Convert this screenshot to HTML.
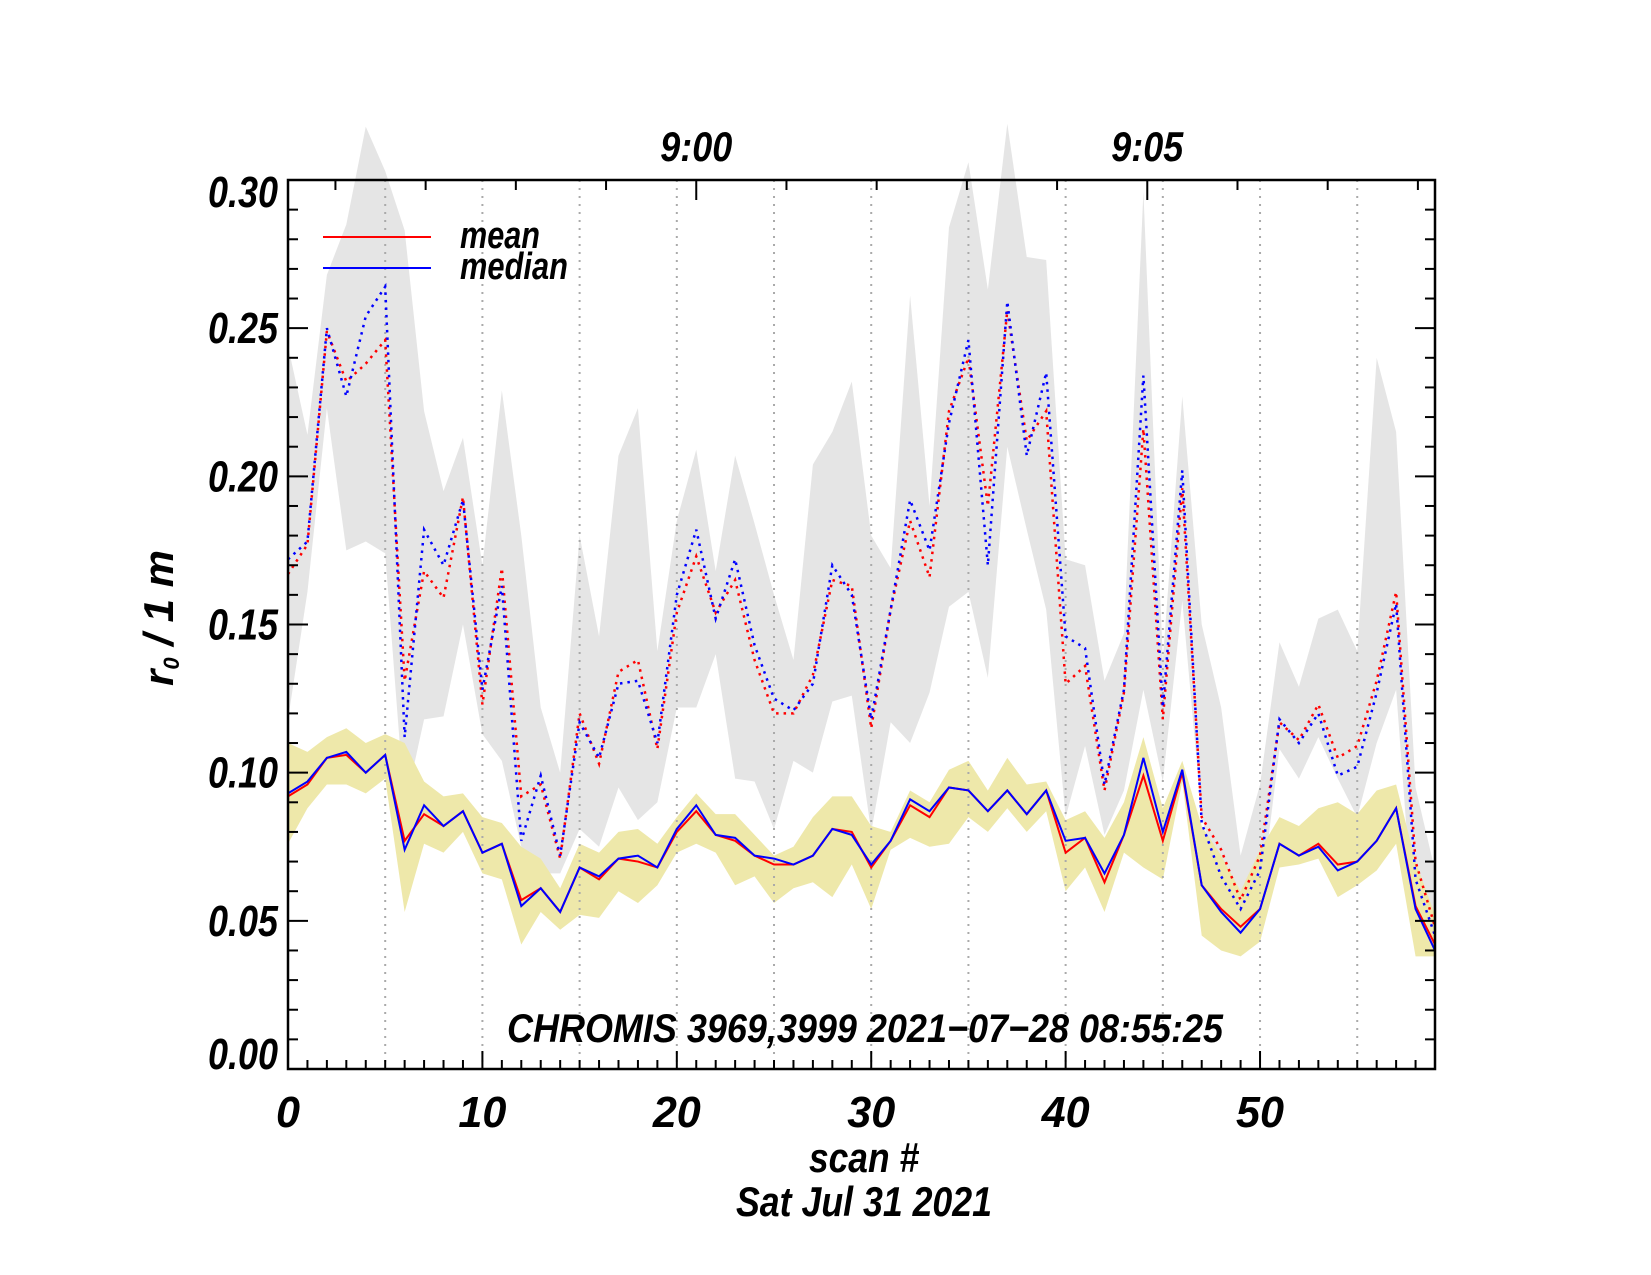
<!DOCTYPE html>
<html><head><meta charset="utf-8"><style>
html,body{margin:0;padding:0;background:#fff;}
svg{display:block;}
text{font-family:"Liberation Sans",sans-serif;font-weight:bold;font-style:italic;fill:#000;}
</style></head><body>
<svg id="chart" width="1651" height="1275" viewBox="0 0 1651 1275" xmlns="http://www.w3.org/2000/svg">
<g id="bands"></g><g id="grid"></g><g id="series"></g><g id="axes"></g><g id="labels"></g>
</svg>
<script>
const scans = Array.from({length:60},(_,i)=>i);
const meanSolid=[0.092,0.096,0.105,0.106,0.100,0.106,0.077,0.086,0.082,0.087,0.073,0.076,0.057,0.061,0.053,0.068,0.064,0.071,0.070,0.068,0.080,0.087,0.079,0.077,0.072,0.069,0.069,0.072,0.081,0.080,0.068,0.077,0.089,0.085,0.095,0.094,0.087,0.094,0.086,0.094,0.073,0.078,0.063,0.079,0.099,0.077,0.100,0.062,0.054,0.048,0.054,0.076,0.072,0.076,0.069,0.070,0.077,0.088,0.055,0.042];
const medianSolid=[0.093,0.097,0.105,0.107,0.100,0.106,0.074,0.089,0.082,0.087,0.073,0.076,0.055,0.061,0.053,0.068,0.065,0.071,0.072,0.068,0.081,0.089,0.079,0.078,0.072,0.071,0.069,0.072,0.081,0.079,0.069,0.077,0.091,0.087,0.095,0.094,0.087,0.094,0.086,0.094,0.077,0.078,0.066,0.079,0.105,0.080,0.101,0.062,0.053,0.046,0.054,0.076,0.072,0.075,0.067,0.070,0.077,0.088,0.054,0.040];
const yellowUpper=[0.110,0.107,0.112,0.115,0.110,0.113,0.110,0.097,0.092,0.093,0.085,0.083,0.075,0.071,0.061,0.076,0.073,0.080,0.081,0.076,0.085,0.093,0.086,0.086,0.079,0.072,0.075,0.085,0.092,0.092,0.082,0.080,0.094,0.090,0.101,0.104,0.094,0.105,0.096,0.097,0.084,0.087,0.078,0.090,0.112,0.088,0.104,0.082,0.072,0.060,0.074,0.085,0.082,0.088,0.090,0.086,0.094,0.096,0.070,0.052];
const yellowLower=[0.076,0.088,0.096,0.096,0.093,0.098,0.053,0.076,0.073,0.080,0.066,0.064,0.042,0.053,0.047,0.052,0.051,0.060,0.056,0.062,0.073,0.076,0.073,0.062,0.065,0.056,0.061,0.063,0.058,0.069,0.054,0.074,0.078,0.075,0.076,0.085,0.080,0.088,0.080,0.087,0.060,0.068,0.053,0.073,0.068,0.064,0.097,0.045,0.040,0.038,0.043,0.068,0.069,0.071,0.058,0.062,0.067,0.076,0.038,0.038];
const meanDotted=[0.167,0.177,0.249,0.232,0.238,0.246,0.131,0.168,0.159,0.193,0.123,0.169,0.092,0.096,0.071,0.120,0.103,0.134,0.138,0.108,0.154,0.173,0.154,0.165,0.138,0.120,0.120,0.133,0.165,0.163,0.115,0.155,0.185,0.166,0.222,0.240,0.190,0.256,0.212,0.222,0.130,0.136,0.094,0.127,0.216,0.118,0.196,0.085,0.074,0.057,0.072,0.117,0.111,0.123,0.105,0.109,0.131,0.161,0.070,0.048];
const medianDotted=[0.172,0.178,0.250,0.227,0.254,0.264,0.112,0.182,0.170,0.192,0.128,0.163,0.077,0.099,0.072,0.117,0.105,0.130,0.131,0.110,0.160,0.182,0.152,0.172,0.143,0.125,0.121,0.130,0.170,0.160,0.118,0.155,0.192,0.175,0.218,0.246,0.170,0.259,0.207,0.235,0.146,0.142,0.096,0.128,0.234,0.122,0.202,0.083,0.065,0.054,0.067,0.118,0.110,0.120,0.099,0.102,0.127,0.157,0.064,0.045];
const grayUpper=[0.244,0.214,0.268,0.285,0.318,0.303,0.283,0.222,0.195,0.213,0.170,0.229,0.180,0.122,0.100,0.180,0.146,0.207,0.223,0.141,0.185,0.209,0.168,0.207,0.184,0.160,0.138,0.204,0.215,0.232,0.180,0.169,0.261,0.190,0.284,0.306,0.263,0.319,0.274,0.273,0.172,0.170,0.131,0.147,0.296,0.138,0.227,0.150,0.122,0.072,0.096,0.144,0.129,0.152,0.155,0.141,0.240,0.215,0.095,0.067];
const grayLower=[0.118,0.161,0.223,0.175,0.178,0.174,0.088,0.118,0.119,0.150,0.113,0.104,0.075,0.066,0.066,0.081,0.075,0.095,0.084,0.090,0.122,0.122,0.140,0.098,0.097,0.081,0.104,0.100,0.124,0.126,0.080,0.117,0.110,0.127,0.156,0.161,0.132,0.210,0.182,0.155,0.085,0.109,0.079,0.094,0.128,0.097,0.158,0.085,0.063,0.048,0.055,0.108,0.098,0.112,0.098,0.085,0.110,0.128,0.040,0.040];
const yTickLabels=["0.00","0.05","0.10","0.15","0.20","0.25","0.30"];
const xTickLabels=["0","10","20","30","40","50"];
const timeLabels=["9:00","9:05"];
const timeLabelMinutes=[0,5];

const L=288,R=1435,T=180,B=1069,XMAX=59,YMAX=0.30;
const xs=v=>L+(v/XMAX)*(R-L);
const ys=v=>B-(v/YMAX)*(B-T);
const NS="http://www.w3.org/2000/svg";
function mk(tag,parent,attrs){const e=document.createElementNS(NS,tag);for(const k in attrs)e.setAttribute(k,attrs[k]);document.getElementById(parent).appendChild(e);return e;}
function bandPts(up,lo){let p=scans.map((s,i)=>xs(s)+","+ys(up[i]));for(let i=scans.length-1;i>=0;i--)p.push(xs(scans[i])+","+ys(lo[i]));return p.join(" ");}
function linePts(a){return scans.map((s,i)=>xs(s)+","+ys(a[i])).join(" ");}

let e;
e=mk("polygon","bands",{points:bandPts(grayUpper,grayLower),fill:"#e5e5e5"});


e=mk("polygon","bands",{points:bandPts(yellowUpper,yellowLower),fill:"#eee8aa"});



for(let v=5;v<XMAX;v+=5){
  e=mk("line","grid",{x1:xs(v),x2:xs(v),y1:T,y2:B,stroke:"#aaa","stroke-width":2,"stroke-dasharray":"2,6"});
  
  
}

e=mk("polyline","series",{points:linePts(meanDotted),fill:"none",stroke:"#f00","stroke-width":2.5,"stroke-dasharray":"2.5,5"});


e=mk("polyline","series",{points:linePts(medianDotted),fill:"none",stroke:"#00f","stroke-width":2.5,"stroke-dasharray":"2.5,5"});


e=mk("polyline","series",{points:linePts(meanSolid),fill:"none",stroke:"#f00","stroke-width":2});


e=mk("polyline","series",{points:linePts(medianSolid),fill:"none",stroke:"#00f","stroke-width":2});



e=mk("rect","axes",{x:L,y:T,width:R-L,height:B-T,fill:"none",stroke:"#000","stroke-width":2.5});


for(let k=0;k<=30;k++){
  const v=k*0.01, y=ys(v), len=(k%5===0)?20:10;
  e=mk("line","axes",{x1:L,x2:L+len,y1:y,y2:y,stroke:"#000","stroke-width":2});
  
  
  e=mk("line","axes",{x1:R,x2:R-len,y1:y,y2:y,stroke:"#000","stroke-width":2});
  
  
}
for(let v=0;v<=XMAX;v++){
  const len=(v%10===0)?18:9;
  e=mk("line","axes",{x1:xs(v),x2:xs(v),y1:B,y2:B-len,stroke:"#000","stroke-width":2});
  
  
}
const x900=xs(21.0), perMin=(xs(44.2)-xs(21.0))/5;
for(let k=-5;k<=9;k++){
  const x=x900+k*perMin; if(x<L||x>R) continue;
  const len=(k%5===0)?20:10;
  e=mk("line","axes",{x1:x,x2:x,y1:T,y2:T+len,stroke:"#000","stroke-width":2});
  
  
}
yTickLabels.forEach((t,i)=>{
  let off=15;
  if(i===0) off=0;
  if(i===yTickLabels.length-1) off=27;
  e=mk("text","labels",{x:278,y:ys(i*0.05)+off,"text-anchor":"end","font-size":44,textLength:70,lengthAdjust:"spacingAndGlyphs"});
  e.textContent=t;
  
  
});
xTickLabels.forEach((t,i)=>{
  e=mk("text","labels",{x:xs(i*10),y:1127,"text-anchor":"middle","font-size":44,textLength:t.length*24,lengthAdjust:"spacingAndGlyphs"});
  e.textContent=t;
  
  
});
timeLabels.forEach((t,i)=>{
  e=mk("text","labels",{x:x900+timeLabelMinutes[i]*perMin,y:161,"text-anchor":"middle","font-size":42,textLength:72,lengthAdjust:"spacingAndGlyphs"});
  e.textContent=t;
  
  
});
</script>
<svg style="position:absolute;left:0;top:0" width="1651" height="1275">
<text x="864" y="1172" text-anchor="middle" font-size="42" textLength="110" lengthAdjust="spacingAndGlyphs">scan #</text>
<text x="864" y="1216" text-anchor="middle" font-size="42" textLength="256" lengthAdjust="spacingAndGlyphs">Sat Jul 31 2021</text>
<g transform="translate(173,618) rotate(-90)">
<text x="0" y="0" text-anchor="middle" font-size="42">r<tspan font-size="22" dy="6">0</tspan><tspan dy="-6"> / 1 m</tspan></text>
</g>
<line x1="323" x2="431" y1="237" y2="237" stroke="#f00" stroke-width="2"/>
<line x1="323" x2="431" y1="268" y2="268" stroke="#00f" stroke-width="2"/>
<text x="460" y="248" font-size="38" textLength="80" lengthAdjust="spacingAndGlyphs">mean</text>
<text x="460" y="279" font-size="38" textLength="108" lengthAdjust="spacingAndGlyphs">median</text>
<text x="865" y="1042" text-anchor="middle" font-size="40" textLength="716" lengthAdjust="spacingAndGlyphs">CHROMIS 3969,3999 2021−07−28 08:55:25</text>
</svg>
</body></html>
